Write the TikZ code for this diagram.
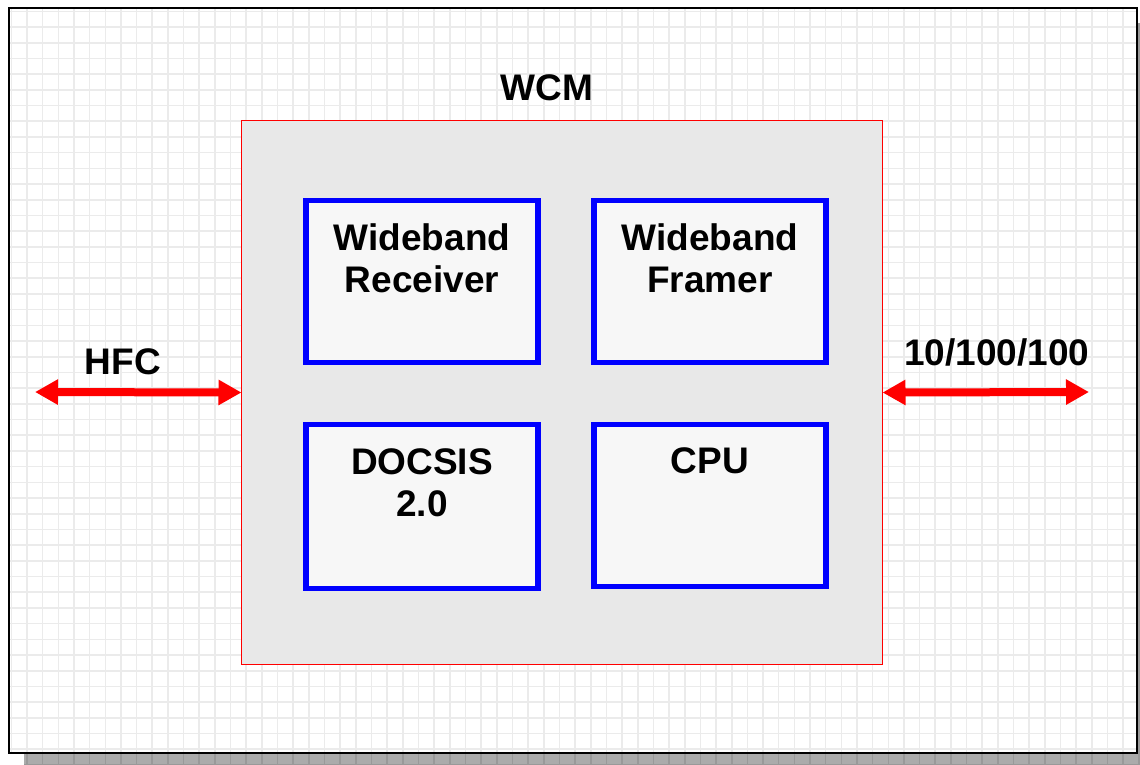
\documentclass[tikz,border=0pt]{standalone}
\usepackage{fontspec}
\setmainfont{Liberation Sans}
\usetikzlibrary{arrows.meta}
\definecolor{gridc}{HTML}{EBEBEB}
\definecolor{shadowc}{HTML}{ABABAB}
\definecolor{shadowgrid}{HTML}{999999}
\definecolor{wcmfill}{HTML}{E8E8E8}
\definecolor{boxfill}{HTML}{F7F7F7}
\definecolor{pureblue}{HTML}{0000FF}
\definecolor{purered}{HTML}{FF0000}
\tikzset{
  lbl/.style={font=\bfseries\fontsize{37}{42}\selectfont, align=center, inner sep=0pt, text=black},
  blockbox/.style={draw=pureblue, fill=boxfill, line width=5.5pt, minimum width=232pt, inner sep=0pt, outer sep=0pt, anchor=north west},
  wcmbox/.style={draw=purered, fill=wcmfill, line width=1.4pt, minimum width=641pt, minimum height=544pt, inner sep=0pt, outer sep=0pt, anchor=north west},
  bidir/.style={draw=purered, line width=8pt, {Triangle[length=23pt,width=24pt]}-{Triangle[length=23pt,width=24pt]}},
  gridline/.style={line width=1.6pt}
}
\begin{document}
\begin{tikzpicture}[x=1pt,y=-1pt]
\useasboundingbox (0,0) rectangle (1140,764);
\clip (0,0) rectangle (1140,764);
% shadow
\begin{scope}
  \clip (24,753) rectangle (1160,780) (1137,23) rectangle (1160,780);
  \fill[shadowc] (0,0) rectangle (1160,780);
  \foreach \i in {0,...,72} \draw[gridline, shadowgrid] ({27+15.66*\i},0) -- ({27+15.66*\i},780);
  \foreach \j in {0,...,50} \draw[gridline, shadowgrid] (0,{27+15.7*\j}) -- (1160,{27+15.7*\j});
\end{scope}
% frame with grid
\begin{scope}
  \clip (9,8) rectangle (1137,753);
  \fill[white] (9,8) rectangle (1137,753);
  \foreach \i in {-1,...,72} \draw[gridline, gridc] ({27+15.66*\i},0) -- ({27+15.66*\i},780);
  \foreach \j in {-1,...,50} \draw[gridline, gridc] (0,{27+15.7*\j}) -- (1160,{27+15.7*\j});
\end{scope}
\draw[line width=2.5pt, black] (9,8) rectangle (1137,753);

% WCM block
\node[wcmbox] (wcm) at (241.5,120.5) {};
\node[lbl, anchor=base] (wcmlbl) at (547,100) {WCM};

% inner blocks
\node[blockbox, minimum height=162pt] (recv) at (306,200.5) {};
\node[blockbox, minimum height=162pt] (framer) at (594,200.5) {};
\node[blockbox, minimum height=164pt] (docsis) at (306,424.5) {};
\node[blockbox, minimum height=162pt] (cpu) at (594,424.5) {};

% anchor=base of a two-line node is the baseline of its last line
\node[lbl, anchor=base] (recvlbl) at (422,292) {Wideband\\Receiver};
\node[lbl, anchor=base] (framerlbl) at (710,292) {Wideband\\Framer};
\node[lbl, anchor=base] (docsislbl) at (422,516) {DOCSIS\\2.0};
\node[lbl, anchor=base] (cpulbl) at (710,473.5) {CPU};

% side connections
\coordinate (hfcend) at (35,392);
\coordinate (ethend) at (1089,392);
\draw[bidir] (hfcend) -- (wcm.west);
\draw[bidir] (wcm.east) -- (ethend);
\node[lbl, anchor=base] (hfclbl) at (123,374) {HFC};
\node[lbl, anchor=base] (ethlbl) at (997,365) {10/100/100};
\end{tikzpicture}
\end{document}
